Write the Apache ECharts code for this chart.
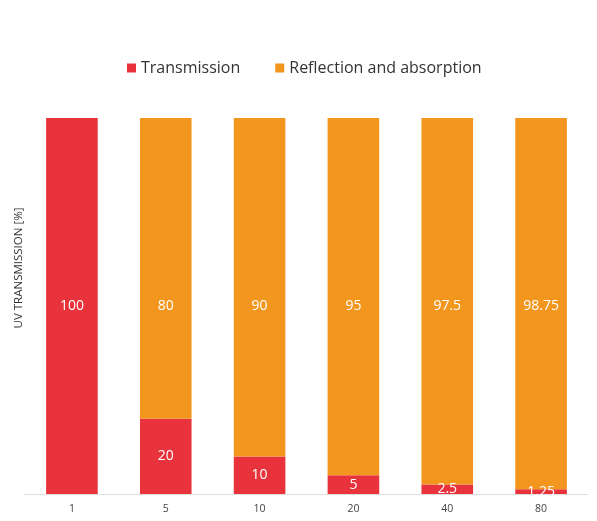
<!DOCTYPE html>
<html><head><meta charset="utf-8">
<script src="https://cdn.jsdelivr.net/npm/echarts@6/dist/echarts.min.js"></script>
<style>html,body{margin:0;padding:0;background:#fff}#c{width:597px;height:521px}</style>
</head><body><div id="c"></div>
<script>
const categories = ['1', '5', '10', '20', '40', '80'];
const transmission = [100, 20, 10, 5, 2.5, 1.25];
const reflection = [0, 80, 90, 95, 97.5, 98.75];

const chart = echarts.init(document.getElementById('c'));
chart.setOption({
  animation: false,
  textStyle: { fontFamily: 'Open Sans' },
  legend: {
    top: 55, left: 122, itemGap: 35, itemWidth: 9, itemHeight: 9,
    icon: 'rect',
    textStyle: { fontSize: 16, color: '#333', fontFamily: 'Open Sans' },
    data: ['Transmission', 'Reflection and absorption']
  },
  grid: { left: 25, right: 9, top: 118, bottom: 27, containLabel: false, outerBoundsMode: 'none' },
  xAxis: {
    type: 'category', data: categories,
    axisLine: { lineStyle: { color: '#ddd', width: 1 } },
    axisTick: { show: false },
    axisLabel: { color: '#444', fontSize: 10.5, margin: 10 }
  },
  yAxis: {
    type: 'value', min: 0, max: 100,
    name: 'UV TRANSMISSION [%]', nameLocation: 'middle', nameGap: 0,
    nameTextStyle: { fontSize: 11.5, color: '#333', padding: [0, 0, 0, 76] },
    axisLabel: { show: false }, axisLine: { show: false }, axisTick: { show: false },
    splitLine: { show: false }
  },
  series: [
    {
      name: 'Transmission', type: 'bar', stack: 'a', barWidth: '55%',
      data: transmission,
      itemStyle: { color: '#E8333C' },
      label: { show: true, position: 'inside', color: '#fff', fontSize: 14 }
    },
    {
      name: 'Reflection and absorption', type: 'bar', stack: 'a', barWidth: '55%',
      data: reflection.map(v => v === 0 ? null : v),
      itemStyle: { color: '#F2961E' },
      label: { show: true, position: ['50%', 188], align: 'center', verticalAlign: 'middle', color: '#fff', fontSize: 14 }
    }
  ]
});
</script></body></html>
